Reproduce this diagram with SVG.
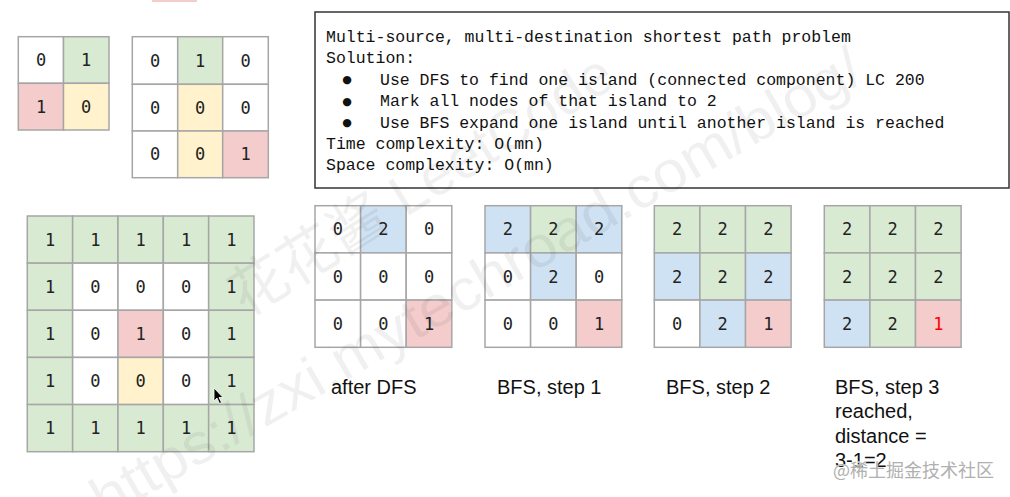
<svg xmlns="http://www.w3.org/2000/svg" width="1010" height="497" viewBox="0 0 1010 497">
<style>
.c{stroke:#a6a6a6;stroke-width:1.5}
.w{fill:#ffffff}
.g{fill:#d9ead3}
.r{fill:#f4cccc}
.y{fill:#fff2cc}
.b{fill:#cfe2f3}
.n{font-family:"DejaVu Sans Mono","Liberation Mono",monospace;font-size:17px;fill:#222;text-anchor:middle;dominant-baseline:central}
.m{font-family:"Liberation Mono","DejaVu Sans Mono",monospace;font-size:16.5px;fill:#111}
.bl{font-family:"DejaVu Sans",sans-serif;font-size:11px;fill:#111;text-anchor:middle}
.lb{font-family:"Liberation Sans",Arial,sans-serif;font-size:20px;fill:#111}
.wm{font-family:"Liberation Sans","Noto Sans CJK SC",sans-serif;font-size:58px;fill:#000;fill-opacity:0.06}
</style>
<rect width="1010" height="497" fill="#ffffff"/>
<rect x="152" y="-5" width="45" height="7" class="r"/>

<g id="grid-2x2">
<rect x="18.3" y="36.7" width="45.2" height="46.6" class="c w"/>
<rect x="63.5" y="36.7" width="45.5" height="46.6" class="c g"/>
<rect x="18.3" y="83.3" width="45.2" height="46.7" class="c r"/>
<rect x="63.5" y="83.3" width="45.5" height="46.7" class="c y"/>
<text x="41" y="60" class="n">0</text><text x="86.2" y="60" class="n">1</text>
<text x="41" y="106.7" class="n">1</text><text x="86.2" y="106.7" class="n">0</text>
</g>

<g id="grid-3x3">
<rect x="132.3" y="36.7" width="45.4" height="47.6" class="c w"/>
<rect x="177.7" y="36.7" width="45" height="47.6" class="c g"/>
<rect x="222.7" y="36.7" width="45.6" height="47.6" class="c w"/>
<rect x="132.3" y="84.3" width="45.4" height="46.7" class="c w"/>
<rect x="177.7" y="84.3" width="45" height="46.7" class="c y"/>
<rect x="222.7" y="84.3" width="45.6" height="46.7" class="c w"/>
<rect x="132.3" y="131" width="45.4" height="46.7" class="c w"/>
<rect x="177.7" y="131" width="45" height="46.7" class="c y"/>
<rect x="222.7" y="131" width="45.6" height="46.7" class="c r"/>
<text x="155" y="60.5" class="n">0</text><text x="200.2" y="60.5" class="n">1</text><text x="245.5" y="60.5" class="n">0</text>
<text x="155" y="107.7" class="n">0</text><text x="200.2" y="107.7" class="n">0</text><text x="245.5" y="107.7" class="n">0</text>
<text x="155" y="154.3" class="n">0</text><text x="200.2" y="154.3" class="n">0</text><text x="245.5" y="154.3" class="n">1</text>
</g>

<g id="solution-box">
<rect x="315" y="12" width="694" height="176" fill="#ffffff" stroke="#333" stroke-width="1.5"/>
<text x="326" y="41.5" class="m">Multi-source, multi-destination shortest path problem</text>
<text x="326" y="63" class="m">Solution:</text>
<text x="347" y="83" class="bl">●</text>
<text x="380" y="84.5" class="m">Use DFS to find one island (connected component) LC 200</text>
<text x="347" y="104.5" class="bl">●</text>
<text x="380" y="106" class="m">Mark all nodes of that island to 2</text>
<text x="347" y="126" class="bl">●</text>
<text x="380" y="127.5" class="m">Use BFS expand one island until another island is reached</text>
<text x="326" y="149" class="m">Time complexity: O(mn)</text>
<text x="326" y="170" class="m">Space complexity: O(mn)</text>
</g>

<g id="grid-5x5">
<rect x="27.3" y="216" width="45.34" height="47.14" class="c g"/>
<rect x="72.64" y="216" width="45.34" height="47.14" class="c g"/>
<rect x="117.98" y="216" width="45.34" height="47.14" class="c g"/>
<rect x="163.32" y="216" width="45.34" height="47.14" class="c g"/>
<rect x="208.66" y="216" width="45.34" height="47.14" class="c g"/>
<rect x="27.3" y="263.14" width="45.34" height="47.14" class="c g"/>
<rect x="72.64" y="263.14" width="45.34" height="47.14" class="c w"/>
<rect x="117.98" y="263.14" width="45.34" height="47.14" class="c w"/>
<rect x="163.32" y="263.14" width="45.34" height="47.14" class="c w"/>
<rect x="208.66" y="263.14" width="45.34" height="47.14" class="c g"/>
<rect x="27.3" y="310.28" width="45.34" height="47.14" class="c g"/>
<rect x="72.64" y="310.28" width="45.34" height="47.14" class="c w"/>
<rect x="117.98" y="310.28" width="45.34" height="47.14" class="c r"/>
<rect x="163.32" y="310.28" width="45.34" height="47.14" class="c w"/>
<rect x="208.66" y="310.28" width="45.34" height="47.14" class="c g"/>
<rect x="27.3" y="357.42" width="45.34" height="47.14" class="c g"/>
<rect x="72.64" y="357.42" width="45.34" height="47.14" class="c w"/>
<rect x="117.98" y="357.42" width="45.34" height="47.14" class="c y"/>
<rect x="163.32" y="357.42" width="45.34" height="47.14" class="c w"/>
<rect x="208.66" y="357.42" width="45.34" height="47.14" class="c g"/>
<rect x="27.3" y="404.56" width="45.34" height="47.14" class="c g"/>
<rect x="72.64" y="404.56" width="45.34" height="47.14" class="c g"/>
<rect x="117.98" y="404.56" width="45.34" height="47.14" class="c g"/>
<rect x="163.32" y="404.56" width="45.34" height="47.14" class="c g"/>
<rect x="208.66" y="404.56" width="45.34" height="47.14" class="c g"/>
<text x="50" y="240" class="n">1</text><text x="95.3" y="240" class="n">1</text><text x="140.6" y="240" class="n">1</text><text x="186" y="240" class="n">1</text><text x="231.3" y="240" class="n">1</text>
<text x="50" y="287" class="n">1</text><text x="95.3" y="287" class="n">0</text><text x="140.6" y="287" class="n">0</text><text x="186" y="287" class="n">0</text><text x="231.3" y="287" class="n">1</text>
<text x="50" y="334" class="n">1</text><text x="95.3" y="334" class="n">0</text><text x="140.6" y="334" class="n">1</text><text x="186" y="334" class="n">0</text><text x="231.3" y="334" class="n">1</text>
<text x="50" y="381" class="n">1</text><text x="95.3" y="381" class="n">0</text><text x="140.6" y="381" class="n">0</text><text x="186" y="381" class="n">0</text><text x="231.3" y="381" class="n">1</text>
<text x="50" y="428" class="n">1</text><text x="95.3" y="428" class="n">1</text><text x="140.6" y="428" class="n">1</text><text x="186" y="428" class="n">1</text><text x="231.3" y="428" class="n">1</text>
<polygon points="214,388 214,401 217,398 219.5,403.5 221.5,402.5 219,397.5 223,397.5" fill="#000" stroke="#fff" stroke-width="0.8"/>
</g>

<g id="after-dfs">
<rect x="315" y="205.7" width="45.6" height="47.2" class="c w"/>
<rect x="360.6" y="205.7" width="45.6" height="47.2" class="c b"/>
<rect x="406.2" y="205.7" width="45.6" height="47.2" class="c w"/>
<rect x="315" y="252.9" width="45.6" height="47.2" class="c w"/>
<rect x="360.6" y="252.9" width="45.6" height="47.2" class="c w"/>
<rect x="406.2" y="252.9" width="45.6" height="47.2" class="c w"/>
<rect x="315" y="300.1" width="45.6" height="47.2" class="c w"/>
<rect x="360.6" y="300.1" width="45.6" height="47.2" class="c w"/>
<rect x="406.2" y="300.1" width="45.6" height="47.2" class="c r"/>
<text x="337.8" y="229.3" class="n">0</text><text x="383.4" y="229.3" class="n">2</text><text x="429" y="229.3" class="n">0</text>
<text x="337.8" y="276.5" class="n">0</text><text x="383.4" y="276.5" class="n">0</text><text x="429" y="276.5" class="n">0</text>
<text x="337.8" y="323.7" class="n">0</text><text x="383.4" y="323.7" class="n">0</text><text x="429" y="323.7" class="n">1</text>
<text x="331" y="394" class="lb">after DFS</text>
</g>

<g id="bfs-step-1">
<rect x="485" y="205.7" width="45.6" height="47.2" class="c b"/>
<rect x="530.6" y="205.7" width="45.6" height="47.2" class="c g"/>
<rect x="576.2" y="205.7" width="45.6" height="47.2" class="c b"/>
<rect x="485" y="252.9" width="45.6" height="47.2" class="c w"/>
<rect x="530.6" y="252.9" width="45.6" height="47.2" class="c b"/>
<rect x="576.2" y="252.9" width="45.6" height="47.2" class="c w"/>
<rect x="485" y="300.1" width="45.6" height="47.2" class="c w"/>
<rect x="530.6" y="300.1" width="45.6" height="47.2" class="c w"/>
<rect x="576.2" y="300.1" width="45.6" height="47.2" class="c r"/>
<text x="507.8" y="229.3" class="n">2</text><text x="553.4" y="229.3" class="n">2</text><text x="599" y="229.3" class="n">2</text>
<text x="507.8" y="276.5" class="n">0</text><text x="553.4" y="276.5" class="n">2</text><text x="599" y="276.5" class="n">0</text>
<text x="507.8" y="323.7" class="n">0</text><text x="553.4" y="323.7" class="n">0</text><text x="599" y="323.7" class="n">1</text>
<text x="497" y="394" class="lb">BFS, step 1</text>
</g>

<g id="bfs-step-2">
<rect x="654.3" y="205.7" width="45.6" height="47.2" class="c g"/>
<rect x="699.9" y="205.7" width="45.6" height="47.2" class="c g"/>
<rect x="745.5" y="205.7" width="45.6" height="47.2" class="c g"/>
<rect x="654.3" y="252.9" width="45.6" height="47.2" class="c b"/>
<rect x="699.9" y="252.9" width="45.6" height="47.2" class="c g"/>
<rect x="745.5" y="252.9" width="45.6" height="47.2" class="c b"/>
<rect x="654.3" y="300.1" width="45.6" height="47.2" class="c w"/>
<rect x="699.9" y="300.1" width="45.6" height="47.2" class="c b"/>
<rect x="745.5" y="300.1" width="45.6" height="47.2" class="c r"/>
<text x="677.1" y="229.3" class="n">2</text><text x="722.7" y="229.3" class="n">2</text><text x="768.3" y="229.3" class="n">2</text>
<text x="677.1" y="276.5" class="n">2</text><text x="722.7" y="276.5" class="n">2</text><text x="768.3" y="276.5" class="n">2</text>
<text x="677.1" y="323.7" class="n">0</text><text x="722.7" y="323.7" class="n">2</text><text x="768.3" y="323.7" class="n">1</text>
<text x="666" y="394" class="lb">BFS, step 2</text>
</g>

<g id="bfs-step-3">
<rect x="824.3" y="205.7" width="45.6" height="47.2" class="c g"/>
<rect x="869.9" y="205.7" width="45.6" height="47.2" class="c g"/>
<rect x="915.5" y="205.7" width="45.6" height="47.2" class="c g"/>
<rect x="824.3" y="252.9" width="45.6" height="47.2" class="c g"/>
<rect x="869.9" y="252.9" width="45.6" height="47.2" class="c g"/>
<rect x="915.5" y="252.9" width="45.6" height="47.2" class="c g"/>
<rect x="824.3" y="300.1" width="45.6" height="47.2" class="c b"/>
<rect x="869.9" y="300.1" width="45.6" height="47.2" class="c g"/>
<rect x="915.5" y="300.1" width="45.6" height="47.2" class="c r"/>
<text x="847.1" y="229.3" class="n">2</text><text x="892.7" y="229.3" class="n">2</text><text x="938.3" y="229.3" class="n">2</text>
<text x="847.1" y="276.5" class="n">2</text><text x="892.7" y="276.5" class="n">2</text><text x="938.3" y="276.5" class="n">2</text>
<text x="847.1" y="323.7" class="n">2</text><text x="892.7" y="323.7" class="n">2</text><text x="938.3" y="323.7" class="n" style="fill:#ff0000">1</text>
<text x="835" y="394" class="lb">BFS, step 3</text>
<text x="835" y="418" class="lb">reached,</text>
<text x="835" y="443" class="lb">distance =</text>
<text x="835" y="467" class="lb">3-1=2</text>
</g>

<g id="connectors"></g>

<g id="watermarks">
<text x="0" y="0" class="wm" transform="translate(105,520) rotate(-30)" textLength="880" lengthAdjust="spacingAndGlyphs">https://zxi.mytechroad.com/blog/</text>
<text x="0" y="0" class="wm" transform="translate(245,318) rotate(-32)" textLength="440" lengthAdjust="spacingAndGlyphs">花花酱 LeetCode</text>
<text x="833" y="477" font-family="'Noto Sans CJK SC',sans-serif" font-size="18" fill="#b0b0b0" stroke="#ffffff" stroke-width="0.6" paint-order="stroke">@稀土掘金技术社区</text>
</g>
</svg>
